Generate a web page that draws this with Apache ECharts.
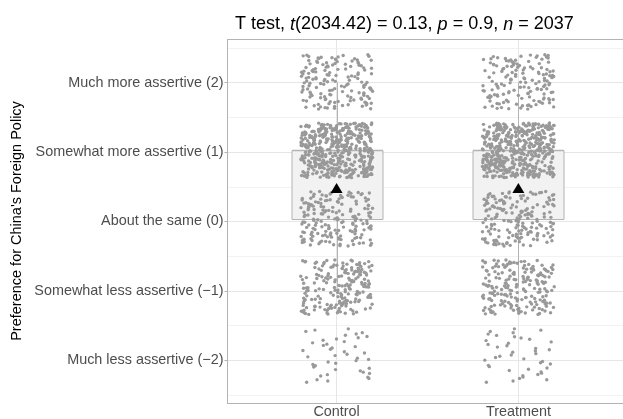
<!DOCTYPE html>
<html>
<head>
<meta charset="utf-8">
<script src="https://cdn.jsdelivr.net/npm/echarts@6.0.0/dist/echarts.min.js"></script>
<style>
html, body { margin: 0; padding: 0; background: #fff; }
#main { width: 623px; height: 419px; }
</style>
</head>
<body>
<div id="main"></div>
<script>
// groups on the x axis
const groups = ['Control', 'Treatment'];
// answer levels, top to bottom
const levels = [2, 1, 0, -1, -2];
const levelLabels = [
	'Much more assertive (2)',
	'Somewhat more assertive (1)',
	'About the same (0)',
	'Somewhat less assertive (\u22121)',
	'Much less assertive (\u22122)'
];
const halfLevels = [2.5, 1.5, 0.5, -0.5, -1.5, -2.5];
const controlCounts = [150, 450, 180, 195, 43];
const treatmentCounts = [148, 455, 178, 196, 42];
// box: lower whisker, Q1, median, Q3, upper whisker
const controlBox = [-1, 0, 1, 1, 2];
const treatmentBox = [-1, 0, 1, 1, 2];
// group means (black triangles)
const groupMeans = [0.46, 0.46];

const titleText = '{n|T test, }{i|t}{n|(2034.42) = 0.13, }{i|p}{n| = 0.9, }{i|n}{n| = 2037}';
const yTitle = "Preference for China's Foreign Policy";

const font = 'Liberation Sans, Arial, Helvetica, sans-serif';
const yMin = -2.62, yMax = 2.62;
const frameColor = '#B3B3B3';
// jitter height in level units, x jitter is done by echarts (axis.jitter)
const jitterHeight = 0.4;

// one point per respondent, rows spread over the jitter height of its level
const cellPoints = (group, counts) => {
	const pts = [];
	levels.forEach((lv, k) => {
		const n = counts[k];
		for (let i = 0; i < n; i++) {
			pts.push([group, lv - jitterHeight + 2 * jitterHeight * (i + 0.5) / n]);
		}
	});
	return pts;
};

const renderBox = (params, api) => {
	const idx = api.value(0);
	const half = api.size([1, 0])[0] * 0.25;
	const px = v => api.coord([idx, v]);
	const x = Math.round(px(0)[0]) + 0.5;
	const y = v => Math.round(px(v)[1]) + 0.5;
	const lo = y(api.value(1)), q1 = y(api.value(2)), med = y(api.value(3)), q3 = y(api.value(4)), hi = y(api.value(5));
	const stroke = '#B3B3B3';
	return {
		type: 'group',
		children: [
			{ type: 'line', shape: { x1: x, y1: q3, x2: x, y2: hi }, style: { stroke: stroke, lineWidth: 1 } },
			{ type: 'line', shape: { x1: x, y1: q1, x2: x, y2: lo }, style: { stroke: stroke, lineWidth: 1 } },
			{ type: 'rect', shape: { x: Math.round(x - half), y: q3, width: Math.round(2 * half), height: q1 - q3 },
				style: { fill: '#F2F2F2', stroke: stroke, lineWidth: 1 } },
			{ type: 'line', shape: { x1: Math.round(x - half), y1: med, x2: Math.round(x + half), y2: med },
				style: { stroke: stroke, lineWidth: 1.5 } }
		]
	};
};

const myChart = echarts.init(document.getElementById('main'));

const option = {
	animation: false,
	backgroundColor: '#fff',
	title: {
		text: titleText,
		left: 230,
		top: 9.5,
		textStyle: {
			rich: {
				n: { fontSize: 18, fontFamily: font, fontWeight: 'normal', color: '#000', lineHeight: 20 },
				i: { fontSize: 18, fontFamily: font, fontWeight: 'normal', color: '#000', fontStyle: 'italic', lineHeight: 20 }
			}
		}
	},
	graphic: [{
		type: 'text',
		x: 17,
		y: 221,
		rotation: Math.PI / 2,
		style: {
			text: yTitle,
			fontSize: 14.5,
			fontFamily: font,
			fill: '#000',
			align: 'center',
			verticalAlign: 'middle'
		}
	}],
	grid: [
		// panel: frame, grid lines, y labels (runs to the right edge)
		{ left: 227.5, right: 0, top: 39.5, bottom: 15.5 },
		// data: category x for points and boxes
		{ left: 245.7, right: 13.7, top: 39.5, bottom: 15.5 }
	],
	xAxis: [{
		gridIndex: 0,
		type: 'value',
		min: 0.4,
		max: 2.5755,
		axisLine: { show: true, onZero: false, lineStyle: { color: frameColor, width: 1 } },
		axisTick: { show: false, customValues: [1, 2] },
		axisLabel: { show: false },
		splitLine: { show: true, lineStyle: { color: '#E6E6E6', width: 1 } }
	}, {
		gridIndex: 0,
		type: 'value',
		position: 'top',
		min: 0.4,
		max: 2.5755,
		axisLine: { show: true, onZero: false, lineStyle: { color: frameColor, width: 1 } },
		axisTick: { show: false },
		axisLabel: { show: false },
		splitLine: { show: false }
	}, {
		gridIndex: 1,
		type: 'category',
		data: groups,
		jitter: 72,
		jitterOverlap: true,
		axisLine: { show: false },
		axisTick: { show: true, alignWithLabel: true, length: 3, lineStyle: { color: frameColor } },
		axisLabel: { color: '#4D4D4D', fontSize: 14.4, fontFamily: font, margin: 7 },
		splitLine: { show: false }
	}],
	yAxis: [{
		gridIndex: 0,
		type: 'value',
		min: yMin,
		max: yMax,
		axisLine: { show: true, onZero: false, lineStyle: { color: frameColor, width: 1 } },
		axisTick: { show: true, length: 3, customValues: levels, lineStyle: { color: frameColor } },
		axisLabel: {
			customValues: levels,
			color: '#4D4D4D',
			fontSize: 14.4,
			fontFamily: font,
			margin: 4,
			formatter: v => levelLabels[levels.indexOf(Math.round(v))]
		},
		splitLine: { show: true, lineStyle: { color: '#E6E6E6', width: 1 } }
	}, {
		gridIndex: 0,
		type: 'value',
		min: yMin,
		max: yMax,
		axisLine: { show: false },
		axisTick: { show: false, customValues: halfLevels },
		axisLabel: { show: false },
		splitLine: { show: true, lineStyle: { color: '#F2F2F2', width: 1 } }
	}, {
		gridIndex: 1,
		type: 'value',
		min: yMin,
		max: yMax,
		axisLine: { show: false },
		axisTick: { show: false },
		axisLabel: { show: false },
		splitLine: { show: false }
	}],
	series: [{
		type: 'custom',
		xAxisIndex: 2,
		yAxisIndex: 2,
		z: 2,
		silent: true,
		renderItem: renderBox,
		encode: { x: 0, y: [1, 2, 3, 4, 5] },
		data: [[groups[0]].concat(controlBox), [groups[1]].concat(treatmentBox)]
	}, {
		type: 'scatter',
		name: groups[0],
		xAxisIndex: 2,
		yAxisIndex: 2,
		z: 3,
		silent: true,
		symbolSize: 3.4,
		itemStyle: { color: '#999999', opacity: 1 },
		data: cellPoints(groups[0], controlCounts)
	}, {
		type: 'scatter',
		name: groups[1],
		xAxisIndex: 2,
		yAxisIndex: 2,
		z: 3,
		silent: true,
		symbolSize: 3.4,
		itemStyle: { color: '#999999', opacity: 1 },
		data: cellPoints(groups[1], treatmentCounts)
	}, {
		type: 'scatter',
		name: 'mean',
		xAxisIndex: 0,
		yAxisIndex: 0,
		z: 4,
		silent: true,
		symbol: 'triangle',
		symbolSize: [12, 10],
		symbolOffset: [0, -1.5],
		itemStyle: { color: '#000', opacity: 1 },
		data: groupMeans.map((m, i) => [i + 1, m])
	}]
};

myChart.setOption(option);
</script>
</body>
</html>
